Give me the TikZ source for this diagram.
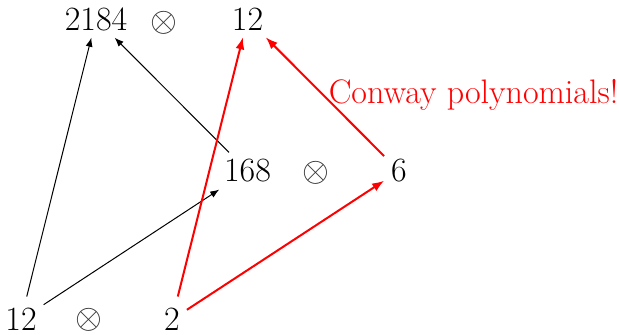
\documentclass[tikz,border=0pt]{standalone}
\usetikzlibrary{arrows.meta}
\begin{document}
\begin{tikzpicture}[x=0.5pt,y=-0.5pt,
  num/.style={font=\fontsize{17}{20}\selectfont},
  lownum/.style={num, inner ysep=0.5pt, outer ysep=5.37pt},
  otim/.style={font=\fontsize{16}{19}\selectfont, text=black!80},
  blk/.style={draw=black, line width=0.5pt, -{Latex[length=4.5pt,width=3.5pt]}},
  redarr/.style={draw=red, line width=1pt, -{Latex[length=6pt,width=4.5pt]}}]
\useasboundingbox (0,0) rectangle (619,334);
% top row
\node[num] (a) at (96,19) {2184};
\node[otim] (ot) at (164,23) {$\otimes$};
\node[num] (b) at (247.5,19) {12};
% middle row
\node[num] (c) at (247.5,171) {168};
\node[otim] (om) at (316,172.5) {$\otimes$};
\node[num] (d) at (399,171) {6};
% bottom row
\node[lownum] (e) at (21,319.5) {12};
\node[otim] (ob) at (89,320) {$\otimes$};
\node[lownum] (f) at (172,319.5) {2};
% label
\node[num, text=red, anchor=base] (lbl) at (473.5,103) {Conway polynomials!};
% arrows
\draw[blk] (e) -- (a);
\draw[blk] (e) -- (c);
\draw[blk] (c) -- (a);
\draw[redarr] (f) -- (b);
\draw[redarr] (f) -- (d);
\draw[redarr] (d) -- (b);
\end{tikzpicture}
\end{document}
